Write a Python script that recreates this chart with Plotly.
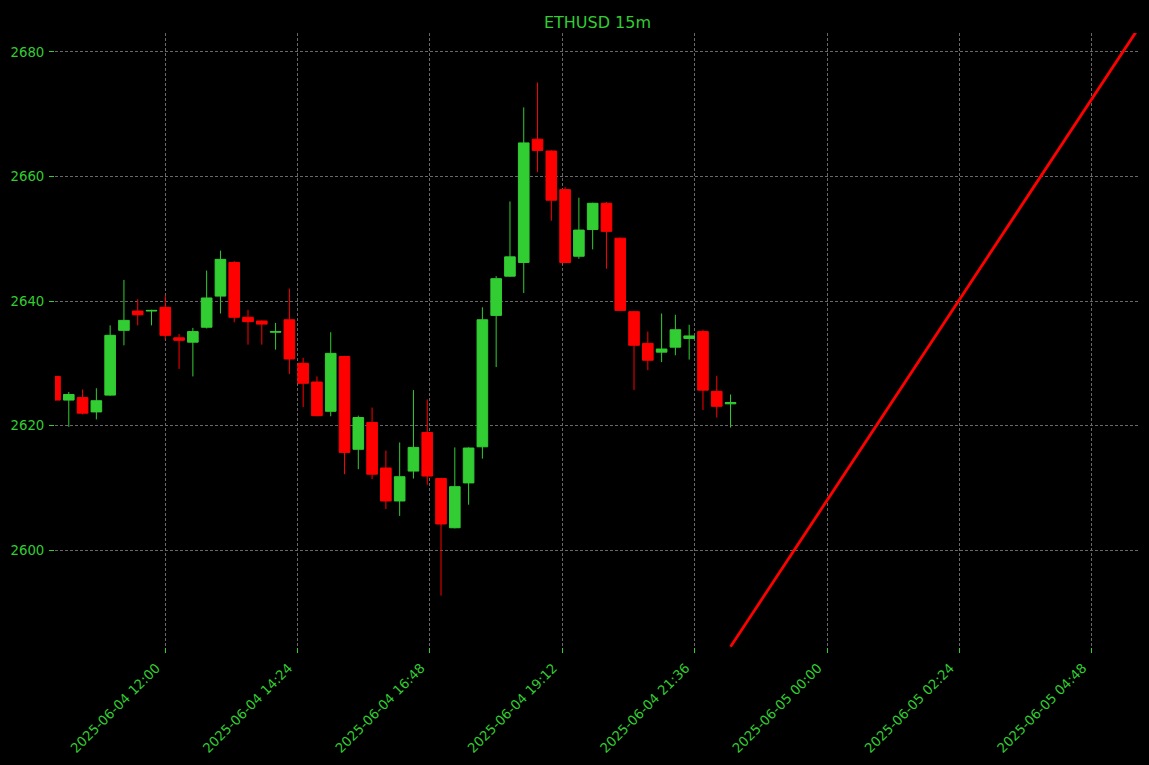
import pandas as pd
import plotly.graph_objects as go

# ---- data ----
start_time = "2025-06-04 10:00"
n_candles = 50
open_ = [2627.9, 2624.1, 2624.5, 2622.2, 2624.9, 2635.3, 2638.4, 2638.4, 2639.0, 2634.1,
         2633.4, 2635.8, 2640.8, 2646.2, 2637.4, 2636.8, 2635.0, 2637.0, 2630.0, 2627.0,
         2622.3, 2631.1, 2616.2, 2620.5, 2613.2, 2607.9, 2612.7, 2618.9, 2611.5, 2603.6,
         2610.8, 2616.6, 2637.7, 2644.0, 2646.2, 2666.0, 2664.1, 2657.9, 2647.2, 2651.5,
         2655.7, 2650.1, 2638.3, 2633.2, 2631.8, 2632.6, 2634.0, 2635.1, 2625.5, 2623.5]
high = [2628.0, 2625.4, 2625.8, 2626.0, 2636.1, 2643.4, 2640.3, 2638.6, 2640.9, 2634.7,
        2635.7, 2644.9, 2648.1, 2646.4, 2638.6, 2636.9, 2636.5, 2642.0, 2630.9, 2627.9,
        2635.0, 2631.2, 2621.6, 2622.9, 2616.0, 2617.3, 2625.7, 2624.2, 2611.6, 2616.5,
        2616.5, 2639.0, 2644.0, 2656.0, 2671.1, 2675.1, 2664.2, 2658.3, 2656.6, 2655.8,
        2655.9, 2650.2, 2638.4, 2635.1, 2638.0, 2637.8, 2636.2, 2635.4, 2628.0, 2625.0]
low = [2624.0, 2619.8, 2621.8, 2621.0, 2624.8, 2632.9, 2636.1, 2636.1, 2633.8, 2629.1,
       2627.9, 2635.6, 2638.0, 2636.6, 2633.0, 2633.0, 2632.2, 2628.3, 2623.0, 2621.5,
       2621.5, 2612.2, 2613.0, 2611.4, 2606.6, 2605.5, 2611.5, 2610.5, 2592.7, 2603.5,
       2607.3, 2614.7, 2629.4, 2643.9, 2641.3, 2660.7, 2652.9, 2646.1, 2646.8, 2648.3,
       2645.2, 2638.4, 2625.7, 2628.9, 2630.2, 2631.3, 2630.6, 2622.5, 2621.3, 2619.7]
close = [2624.1, 2625.0, 2622.0, 2624.0, 2634.5, 2636.9, 2637.8, 2638.5, 2634.5, 2633.7,
         2635.1, 2640.5, 2646.7, 2637.4, 2636.7, 2636.3, 2635.1, 2630.7, 2626.8, 2621.6,
         2631.6, 2615.7, 2621.3, 2612.2, 2607.9, 2611.8, 2616.5, 2611.9, 2604.2, 2610.2,
         2616.4, 2637.0, 2643.6, 2647.1, 2665.4, 2664.2, 2656.2, 2646.2, 2651.4, 2655.7,
         2651.2, 2638.5, 2632.9, 2630.5, 2632.3, 2635.4, 2634.4, 2625.7, 2623.1, 2623.7]

trend_times = ["2025-06-04 22:15", "2025-06-05 05:45"]
trend_values = [2584.5, 2685.2]

x_tickvals = ["2025-06-04 12:00", "2025-06-04 14:24", "2025-06-04 16:48", "2025-06-04 19:12",
              "2025-06-04 21:36", "2025-06-05 00:00", "2025-06-05 02:24", "2025-06-05 04:48"]
y_tickvals = [2600, 2620, 2640, 2660, 2680]

title_text = "ETHUSD 15m"

# ---- figure ----
times = pd.date_range(start_time, periods=n_candles, freq="15min")

GREEN = "#32CD32"
RED = "#FF0000"
GRID = "#686868"
FONT = "DejaVu Sans"

fig = go.Figure()
fig.add_trace(go.Candlestick(
    x=times, open=open_, high=high, low=low, close=close,
    increasing=dict(fillcolor=GREEN, line=dict(color=GREEN, width=1)),
    decreasing=dict(fillcolor=RED, line=dict(color=RED, width=1)),
    whiskerwidth=0, showlegend=False,
))
fig.add_trace(go.Scatter(
    x=pd.to_datetime(trend_times), y=trend_values, mode="lines",
    line=dict(color=RED, width=2.8), showlegend=False,
))

fig.update_layout(
    width=1149, height=765,
    paper_bgcolor="black", plot_bgcolor="black",
    margin=dict(l=55.4, r=9, t=33, b=117.5, autoexpand=False),
    boxgap=0.23, boxgroupgap=0,
    font=dict(family=FONT, color=GREEN, size=13.3),
    title=dict(text=title_text, x=0.5, xanchor="center", xref="paper",
               y=1, yref="paper", yanchor="bottom", pad=dict(b=5),
               font=dict(family=FONT, color=GREEN, size=16)),
    showlegend=False,
)
fig.update_xaxes(
    type="date",
    range=["2025-06-04 10:00", "2025-06-05 05:40:30"],
    rangeslider=dict(visible=False),
    tickvals=pd.to_datetime(x_tickvals), tickformat="%Y-%m-%d %H:%M",
    tickangle=-45, ticks="outside", ticklen=5, tickcolor=GREEN, tickwidth=1,
    ticklabelshift=-9, ticklabelstandoff=2,
    showgrid=True, gridcolor=GRID, gridwidth=0.6, griddash="3px,2px",
    showline=False, zeroline=False,
    tickfont=dict(family=FONT, color=GREEN, size=13.3),
)
fig.update_yaxes(
    range=[2584.45, 2683.05],
    tickvals=y_tickvals, ticks="outside", ticklen=5, tickcolor=GREEN, tickwidth=1,
    ticklabelstandoff=2,
    showgrid=True, gridcolor=GRID, gridwidth=0.6, griddash="3px,2px",
    showline=False, zeroline=False,
    tickfont=dict(family=FONT, color=GREEN, size=13.3),
)

fig.write_html("out.html")
